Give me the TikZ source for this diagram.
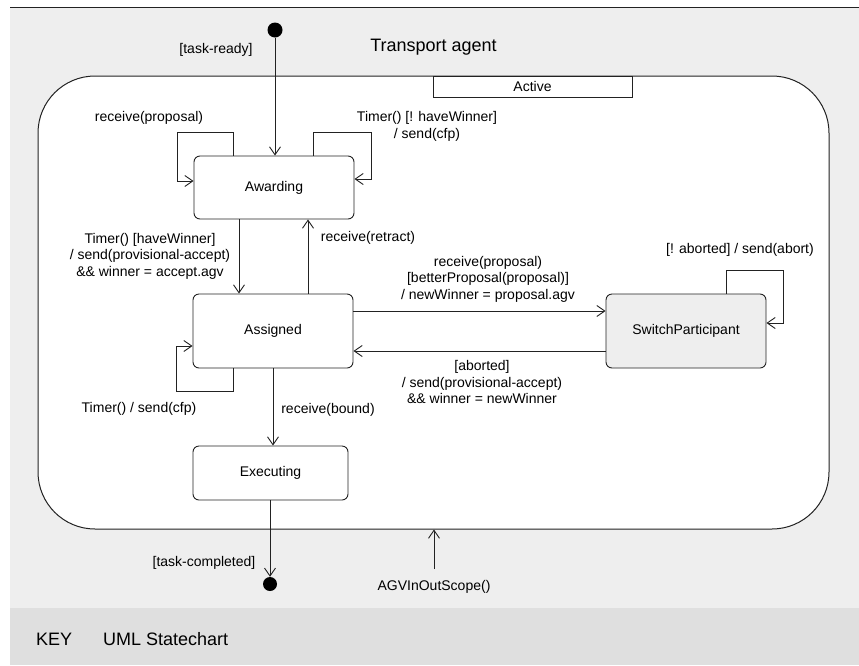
\documentclass[tikz,border=0pt]{standalone}
\usepackage{fontspec}
\setmainfont{Liberation Sans}
\usetikzlibrary{arrows.meta}
\definecolor{bgc}{HTML}{EEEEEE}
\definecolor{keyc}{HTML}{DFDFDF}
\definecolor{ln}{HTML}{222222}
\tikzset{
  statebox/.style={draw=ln, line width=0.9pt, rounded corners=6pt, fill=white, inner sep=0pt},
  arr/.style={draw=ln, line width=0.9pt, -{Straight Barb[length=8pt,width=11pt,line width=0.9pt]}},
  lbl/.style={inner sep=0pt, align=center, font=\fontsize{14}{16.5}\selectfont},
  big/.style={inner sep=0pt, font=\fontsize{18}{21}\selectfont},
  dot/.style={circle, fill=black, inner sep=0pt, minimum size=15pt},
}
\begin{document}
\begin{tikzpicture}[x=1pt, y=-1pt, font=\fontsize{14}{16.5}\selectfont]
\useasboundingbox (0,0) rectangle (859,665);
\fill[white] (0,0) rectangle (859,665);
\fill[bgc] (10,7) rectangle (859,608);
\fill[keyc] (10,608) rectangle (859,665);
\draw[ln, line width=1pt] (10,7) -- (859,7);

% container
\node[draw=ln, line width=1pt, rounded corners=57pt, fill=white, minimum width=791pt, minimum height=453pt, inner sep=0pt] (active) at (433.5,302.5) {};
\node[draw=ln, line width=0.9pt, fill=white, minimum width=199pt, minimum height=21pt, inner sep=0pt] (tab) at (532.5,86.5) {Active};

\node[big] (title) at (433.5,47) {Transport agent};

% states
\node[statebox, minimum width=160pt, minimum height=63pt] (awarding) at (274,187.5) {Awarding};
\node[statebox, minimum width=160pt, minimum height=74pt] (assigned) at (273,331) {Assigned};
\node[statebox, minimum width=155pt, minimum height=54pt] (executing) at (270.5,473) {Executing};
\node[statebox, fill=bgc, minimum width=160pt, minimum height=74pt] (switch) at (686,331) {SwitchParticipant};

\node[dot] (init) at (275,30) {};
\node[dot, minimum size=14pt] (fin) at (270,584) {};

% transitions
\draw[arr] (init) -- (init |- awarding.north);
\draw[arr] ([xshift=-41pt]awarding.north) -- ++(0,-23) -- ++(-56,0) |- ([yshift=6.5pt]awarding.west);
\draw[arr] ([xshift=39pt]awarding.north) -- ++(0,-23) -- ++(58,0) |- ([yshift=8.5pt]awarding.east);
\draw[arr] ([xshift=-35pt]awarding.south) -- ([xshift=-34pt]assigned.north);
\draw[arr] ([xshift=35pt]assigned.north) -- ([xshift=34pt]awarding.south);
\draw[arr] ([yshift=20pt]assigned.east) -- ([yshift=20pt]switch.west);
\draw[arr] ([yshift=-20pt]switch.west) -- ([yshift=-20pt]assigned.east);
\draw[arr] ([xshift=40pt]switch.north) -- ++(0,-23) -- ++(57,0) |- ([yshift=8pt]switch.east);
\draw[arr] ([xshift=-40pt]assigned.south) -- ++(0,23) -- ++(-57,0) |- ([yshift=-15pt]assigned.west);
\draw[arr] (assigned.south) -- (assigned.south |- executing.north);
\draw[arr] (executing.south -| fin) -- (fin);
\coordinate (agvstart) at (434,569);
\draw[arr] (agvstart) -- (agvstart |- active.south);

% labels
\node[lbl] (l1) at (216,50) {[task-ready]};
\node[lbl] (l2) at (149,118) {receive(proposal)};
\node[lbl] (l3) at (427,126.5) {Timer() [! haveWinner]\\/ send(cfp)};
\node[lbl] (l4) at (150,256) {Timer() [haveWinner]\\/ send(provisional-accept)\\\&\& winner = accept.agv};
\node[lbl] (l5) at (368,238) {receive(retract)};
\node[lbl] (l6) at (488,279) {receive(proposal)\\{[}betterProposal(proposal)]\\/ newWinner = proposal.agv};
\node[lbl] (l7) at (482,382) {[aborted]\\/ send(provisional-accept)\\\&\& winner = newWinner};
\node[lbl] (l8) at (740,250) {[! aborted] / send(abort)};
\node[lbl] (l9) at (139,409) {Timer() / send(cfp)};
\node[lbl] (l10) at (328,410) {receive(bound)};
\node[lbl] (l11) at (204,563) {[task-completed]};
\node[lbl] (l12) at (434,587) {AGVInOutScope()};

\node[big, anchor=west] (key) at (36,639) {KEY};
\node[big, anchor=west] (keyt) at (103,639) {UML Statechart};
\end{tikzpicture}
\end{document}
